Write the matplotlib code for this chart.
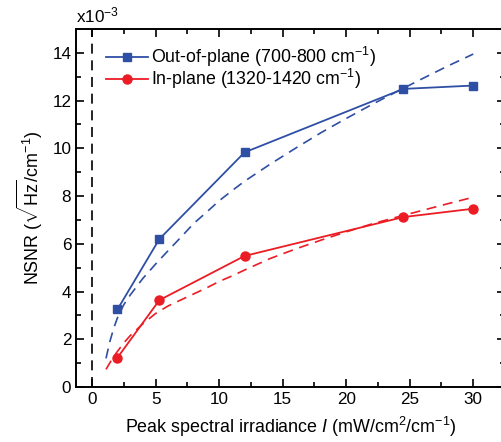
import matplotlib
matplotlib.use("Agg")
import matplotlib.pyplot as plt
from matplotlib.ticker import MultipleLocator

plt.rcParams["font.family"] = ["Liberation Sans", "DejaVu Sans"]
plt.rcParams["mathtext.fontset"] = "custom"
plt.rcParams["mathtext.rm"] = "Liberation Sans"
plt.rcParams["mathtext.it"] = "Liberation Sans:italic"

# measured points (NSNR in units of 1e-3)
irr = [2.0, 5.3, 12.0, 24.5, 30.0]
nsnr_out = [3.25, 6.2, 9.83, 12.49, 12.63]
nsnr_in = [1.23, 3.64, 5.49, 7.12, 7.47]

# dashed fit curves
fit_out_x = [1.1, 1.4, 1.7, 2.0, 2.5, 3.0, 4.0, 5.0, 6.0, 7.0, 8.0, 9.0, 10.0, 11.0, 12.0,
             14.0, 16.0, 18.0, 20.0, 22.0, 24.0, 26.0, 28.0, 30.0]
fit_out_y = [1.2, 1.9, 2.45, 2.9, 3.45, 3.85, 4.55, 5.15, 5.72, 6.28, 6.85, 7.32, 7.8, 8.22, 8.62,
             9.33, 10.0, 10.65, 11.25, 11.83, 12.38, 12.92, 13.45, 13.95]
fit_in_x = [1.1, 1.5, 1.9, 2.5, 3.0, 3.5, 4.0, 5.0, 6.0, 7.0, 8.0, 9.0, 10.0, 11.0, 12.0,
            14.0, 16.0, 18.0, 20.0, 22.0, 24.0, 26.0, 28.0, 30.0]
fit_in_y = [0.74, 1.1, 1.42, 1.85, 2.15, 2.4, 2.65, 3.08, 3.4, 3.65, 3.9, 4.15, 4.42, 4.65, 4.9,
            5.38, 5.78, 6.15, 6.5, 6.83, 7.12, 7.4, 7.68, 7.95]

blue = "#2e4fa3"
red = "#ec1c24"

fig = plt.figure(figsize=(5.01, 4.42), dpi=100)
ax = fig.add_axes([0.152, 0.1244, 0.856, 0.81])

ax.axvline(0, color="black", ls=(0, (6, 4)), lw=1.2)
ax.plot(fit_out_x, fit_out_y, color=blue, ls=(0, (6, 4)), lw=1.2)
ax.plot(fit_in_x, fit_in_y, color=red, ls=(0, (6, 4)), lw=1.2)
ax.plot(irr, nsnr_out, color=blue, marker="s", ms=6, lw=1.3,
        label="Out-of-plane (700-800 cm$^{-1}$)")
ax.plot(irr, nsnr_in, color=red, marker="o", ms=6.5, lw=1.3,
        label="In-plane (1320-1420 cm$^{-1}$)")

ax.set_xlim(-1.25, 32.5)
ax.set_ylim(0, 15)
ax.xaxis.set_major_locator(MultipleLocator(5))
ax.xaxis.set_minor_locator(MultipleLocator(2.5))
ax.yaxis.set_major_locator(MultipleLocator(2))
ax.yaxis.set_minor_locator(MultipleLocator(1))
ax.tick_params(which="both", direction="in", top=True, right=True, width=1.2)
ax.tick_params(which="major", length=6, labelsize=12.3)
ax.tick_params(which="minor", length=3.5)
for s in ax.spines.values():
    s.set_linewidth(1.4)

ax.set_xlabel("Peak spectral irradiance $\\mathit{I}$ (mW/cm$^2$/cm$^{-1}$)", fontsize=12.9, labelpad=6)
ax.set_ylabel("NSNR ($\\sqrt{\\mathrm{Hz}}$/cm$^{-1}$)", fontsize=12.9, labelpad=5)
ax.text(0.0, 1.01, "x10$^{-3}$", transform=ax.transAxes, fontsize=12.3, ha="left", va="bottom")

ax.legend(loc="upper left", bbox_to_anchor=(0.045, 0.985), frameon=False, fontsize=12.8,
          handlelength=2.35, handletextpad=0.2, labelspacing=-0.12, borderaxespad=0.2)

fig.savefig("out.png", dpi=100)
